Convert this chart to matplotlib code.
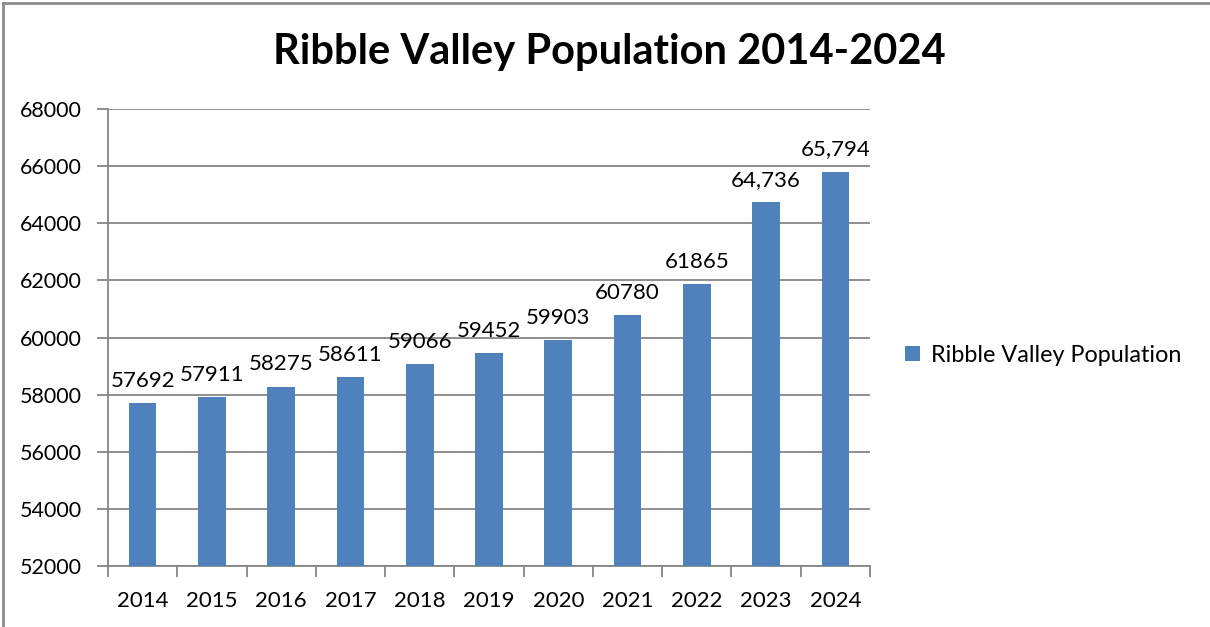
import matplotlib
matplotlib.use("Agg")
import matplotlib.pyplot as plt
from matplotlib.lines import Line2D
from matplotlib.patches import Patch

years = ["2014", "2015", "2016", "2017", "2018", "2019", "2020", "2021", "2022", "2023", "2024"]
population = [57692, 57911, 58275, 58611, 59066, 59452, 59903, 60780, 61865, 64736, 65794]
value_labels = ["57692", "57911", "58275", "58611", "59066", "59452", "59903", "60780", "61865", "64,736", "65,794"]
yticks = [52000, 54000, 56000, 58000, 60000, 62000, 64000, 66000, 68000]
title = "Ribble Valley Population 2014-2024"
series_name = "Ribble Valley Population"

plt.rcParams['font.family'] = ['Lato', 'DejaVu Sans']
W, H = 1210, 627
fig = plt.figure(figsize=(W / 100, H / 100), dpi=100)
ax = fig.add_axes([108 / W, 1 - 566 / H, (870 - 108) / W, (566 - 109) / H])

bar_color = "#4F81BD"
grid_color = "#868686"
x = list(range(len(years)))
ax.bar(x, population, width=0.4, color=bar_color, zorder=3, label=series_name)
ax.set_xlim(-0.5, len(years) - 0.5)
ax.set_ylim(52000, 68000)
ax.set_yticks(yticks)
ax.set_yticklabels([str(v) for v in yticks], fontsize=15.5, color="#000000")
ax.set_xticks(x)
ax.set_xticklabels(years, fontsize=16, color="#000000")
ax.tick_params(axis='x', length=0, pad=18)
ax.set_xticks([i - 0.5 for i in range(len(years) + 1)], minor=True)
ax.tick_params(axis='x', which='minor', length=8, width=1.3, color=grid_color, direction='out')
ax.tick_params(axis='y', length=8, width=1.3, color=grid_color, direction='out', pad=11)
ax.grid(axis='y', color=grid_color, linewidth=1.3, zorder=0)
for s in ['top', 'right']:
    ax.spines[s].set_visible(False)
for s in ['left', 'bottom']:
    ax.spines[s].set_color(grid_color)
    ax.spines[s].set_linewidth(1.3)

for xi, v, lab in zip(x, population, value_labels):
    ax.annotate(lab, (xi, v), xytext=(0, 9), textcoords='offset points',
                ha='center', va='bottom', fontsize=16, color="#000000")

fig.text(609 / W, 1 - 52 / H, title, ha='center', va='center', fontsize=30, fontweight='bold', color="#000000")

handles = [Patch(facecolor=bar_color, edgecolor='none')]
fig.legend(handles, [series_name], loc='center left', bbox_to_anchor=(884 / W, 1 - 355 / H),
           frameon=False, fontsize=16.8, handlelength=0.65, handleheight=0.65, handletextpad=0.45)

# outer chart border (left and top visible)
fig.add_artist(Line2D([3 / W, 3 / W], [0, 1 - 3 / H], transform=fig.transFigure, color="#8c8c8c", linewidth=2))
fig.add_artist(Line2D([3 / W, 1], [1 - 3 / H, 1 - 3 / H], transform=fig.transFigure, color="#8c8c8c", linewidth=2))

fig.savefig("out.png", dpi=100, facecolor="white")
